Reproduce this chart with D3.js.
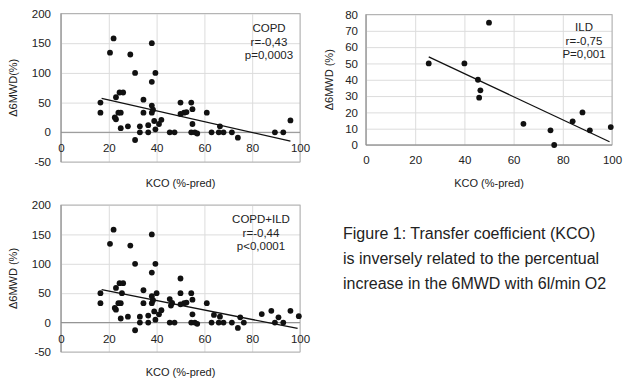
<!DOCTYPE html>
<html>
<head>
<meta charset="utf-8">
<script src="https://cdn.jsdelivr.net/npm/d3@7"></script>
<style>
  body { margin: 0; background: #fff; }
  svg { display: block; font-family: "Liberation Sans", Arial, sans-serif; }
</style>
</head>
<body>
<div id="chart"></div>
<script>
// KCO (%-pred) vs change in 6MWD (%)
const copd = [
  [16.5, 50], [16.5, 33], [20.5, 134], [22, 158], [23, 59], [22.5, 25], [23, 22],
  [24, 33], [25, 33], [24.5, 67], [26, 67], [25, 7], [28, 10], [29, 131],
  [31, 100], [31, -13], [33, 10], [33, 0], [34.5, 55], [34.5, 33], [36.5, 12],
  [36.5, 0], [38, 45], [38, 33], [38.5, 38], [39, 19], [39.5, 5], [38, 85],
  [39.5, 100], [38, 150], [41, 14], [42, 21], [45.5, 0], [47.5, 0], [50, 50],
  [50, 31], [51.5, 33], [52.5, 34], [54.5, 50], [55, 39], [55, 14], [54.5, 0],
  [56, 0], [57, -2], [61, 33], [63, 0], [66.5, 10], [66, 0], [68, 0],
  [71.5, 0], [74, -9], [89.5, 0], [93, 0], [96, 20]
];
const ild = [
  [25.5, 50], [40, 50], [50, 75], [45.5, 40], [46, 29], [46.5, 33.5], [64, 13],
  [75, 9], [76.5, 0], [84, 14.5], [88, 20], [91, 9], [99.5, 11]
];
const both = copd.concat(ild);

// trend lines (start, end)
const copdTrend = [[17, 57], [96, -15]];
const ildTrend = [[25.5, 54], [99, 2]];
const bothTrend = [[17, 56], [99, -10]];

const xTicks = [0, 20, 40, 60, 80, 100];
const yTicksWide = [-50, 0, 50, 100, 150, 200];
const yTicksIld = [0, 10, 20, 30, 40, 50, 60, 70, 80];

const copdNotes = ["COPD", "r=-0,43", "p=0,0003"];
const ildNotes = ["ILD", "r=-0,75", "P=0,001"];
const bothNotes = ["COPD+ILD", "r=-0,44", "p<0,0001"];

const caption = [
  "Figure 1: Transfer coefficient (KCO)",
  "is inversely related to the percentual",
  "increase in the 6MWD with 6l/min O2"
];

const svg = d3.select("#chart").append("svg")
  .attr("width", 626)
  .attr("height", 380);

function drawPanel(opt) {
  const x = d3.scaleLinear().domain([0, 100]).range([opt.left, opt.right]);
  const y = d3.scaleLinear().domain(d3.extent(opt.yTicks)).range([opt.bottom, opt.top]);
  const g = svg.append("g");

  // horizontal grid
  g.append("g")
    .attr("transform", `translate(${opt.left},0)`)
    .call(d3.axisLeft(y).tickValues(opt.yTicks).tickSize(-(opt.right - opt.left)).tickFormat(""))
    .call(s => s.select(".domain").remove())
    .selectAll("line").attr("stroke", "#dcdcdc");

  // vertical grid
  g.append("g")
    .attr("transform", `translate(0,${opt.bottom})`)
    .call(d3.axisBottom(x).tickValues(xTicks).tickSize(-(opt.bottom - opt.top)).tickFormat(""))
    .call(s => s.select(".domain").remove())
    .selectAll("line").attr("stroke", "#dcdcdc");

  // plot frame
  g.append("rect")
    .attr("x", opt.left).attr("y", opt.top)
    .attr("width", opt.right - opt.left).attr("height", opt.bottom - opt.top)
    .attr("fill", "none").attr("stroke", "#b4b4b4");

  // axis lines at 0
  g.append("line")
    .attr("x1", x(0)).attr("x2", x(0)).attr("y1", opt.top).attr("y2", opt.bottom)
    .attr("stroke", "#8c8c8c");
  g.append("line")
    .attr("x1", x(0)).attr("x2", opt.right).attr("y1", y(0)).attr("y2", y(0))
    .attr("stroke", "#8c8c8c");

  // y tick labels
  g.append("g")
    .attr("transform", `translate(${x(0)},0)`)
    .call(d3.axisLeft(y).tickValues(opt.yTicks).tickSize(0).tickPadding(opt.yPad).tickFormat(d => String(d)))
    .call(s => s.select(".domain").remove())
    .selectAll("text")
    .attr("font-family", "Liberation Sans, Arial, sans-serif")
    .attr("font-size", 11.5).attr("fill", "#222");

  // x tick labels along the zero line
  g.append("g")
    .attr("transform", `translate(0,${y(0)})`)
    .call(d3.axisBottom(x).tickValues(xTicks).tickSize(0).tickPadding(opt.xPad).tickFormat(d => String(d)))
    .call(s => s.select(".domain").remove())
    .selectAll("text")
    .attr("font-family", "Liberation Sans, Arial, sans-serif")
    .attr("font-size", 11.5).attr("fill", "#222");

  // points
  g.selectAll("circle.pt")
    .data(opt.points)
    .join("circle")
    .attr("class", "pt")
    .attr("cx", d => x(d[0]))
    .attr("cy", d => y(d[1]))
    .attr("r", 2.9)
    .attr("fill", "#111");

  // trend line
  g.append("path")
    .datum(opt.trend)
    .attr("d", d3.line().x(d => x(d[0])).y(d => y(d[1])))
    .attr("fill", "none")
    .attr("stroke", "#111")
    .attr("stroke-width", 1.3);

  // r / p notes
  g.selectAll("text.note")
    .data(opt.notes)
    .join("text")
    .attr("class", "note")
    .attr("x", opt.noteX)
    .attr("y", (d, i) => opt.noteY + i * 13.5)
    .attr("text-anchor", "middle")
    .attr("font-size", 11.5)
    .attr("fill", "#222")
    .text(d => d);

  // axis titles
  g.append("text")
    .attr("x", (opt.left + opt.right) / 2)
    .attr("y", opt.xTitleY)
    .attr("text-anchor", "middle")
    .attr("font-size", 11)
    .attr("fill", "#222")
    .text("KCO (%-pred)");

  g.append("text")
    .attr("transform", `translate(${opt.yTitleX},${(opt.top + opt.bottom) / 2}) rotate(-90)`)
    .attr("text-anchor", "middle")
    .attr("font-size", 11)
    .attr("fill", "#222")
    .text(opt.yTitle);
}

drawPanel({
  left: 61, right: 300, top: 13.5, bottom: 162,
  yTicks: yTicksWide, yPad: 10, xPad: 12,
  points: copd, trend: copdTrend,
  notes: copdNotes, noteX: 269, noteY: 32,
  xTitleY: 187, yTitle: "Δ6MWD(%)", yTitleX: 17
});

drawPanel({
  left: 366, right: 612, top: 14.5, bottom: 145,
  yTicks: yTicksIld, yPad: 8, xPad: 11,
  points: ild, trend: ildTrend,
  notes: ildNotes, noteX: 584, noteY: 31,
  xTitleY: 187, yTitle: "Δ6MWD (%)", yTitleX: 333
});

drawPanel({
  left: 61, right: 300, top: 205, bottom: 352,
  yTicks: yTicksWide, yPad: 10, xPad: 12,
  points: both, trend: bothTrend,
  notes: bothNotes, noteX: 261, noteY: 223,
  xTitleY: 376, yTitle: "Δ6MWD (%)", yTitleX: 17
});

// figure caption
svg.selectAll("text.caption")
  .data(caption)
  .join("text")
  .attr("class", "caption")
  .attr("x", 343)
  .attr("y", (d, i) => 239 + i * 25)
  .attr("font-size", 16)
  .attr("fill", "#222")
  .text(d => d);
</script>
</body>
</html>
